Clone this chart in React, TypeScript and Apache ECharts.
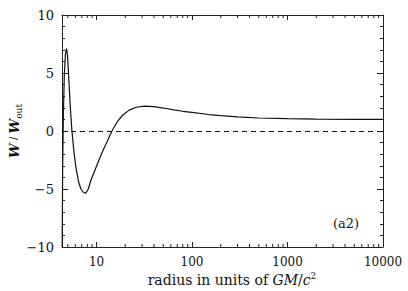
import React, { useEffect, useRef } from "react";
import * as echarts from "echarts";

// radius (units of GM/c^2) and W / W_out
const radius = [
  4.37, 4.42, 4.5, 4.6, 4.72, 4.85, 4.97, 5.1, 5.3, 5.53, 5.8, 6.1, 6.5, 6.87,
  7.3, 7.74, 8.2, 8.76, 9.6, 10.6, 11.8, 13.1, 14.5, 16.5, 19, 22, 26, 32, 40,
  50, 65, 80, 100, 150, 200, 300, 500, 1000, 2000, 5000, 10000,
];
const wRatio = [
  -10, -3, 1.5, 4.8, 6.6, 7.1, 6.5, 4.8, 2.2, 0, -1.8, -3.2, -4.4, -5.0, -5.3,
  -5.35, -5.0, -4.2, -3.4, -2.5, -1.6, -0.8, 0, 0.8, 1.4, 1.8, 2.05, 2.15, 2.1,
  1.98, 1.82, 1.7, 1.6, 1.42, 1.32, 1.22, 1.12, 1.06, 1.03, 1.01, 1.0,
];
const xMajorLabels = [10, 100, 1000, 10000];
const xMinorTicks = [
  5, 6, 7, 8, 9, 20, 30, 40, 50, 60, 70, 80, 90, 200, 300, 400, 500, 600, 700,
  800, 900, 2000, 3000, 4000, 5000, 6000, 7000, 8000, 9000,
];
const xMin = 4.35;
const xMax = 10000;
const yMin = -10;
const yMax = 10;
const yStep = 5;
const panelTag = "(a2)";

const FONT = "DejaVu Serif";
const AX = "#222";

export default function App() {
  const ref = useRef<HTMLDivElement>(null);
  useEffect(() => {
    if (!ref.current) return;
    const chart = echarts.init(ref.current, null, { renderer: "svg" });
    const xAxisBase = {
      type: "log" as const,
      logBase: 10,
      min: xMin,
      max: xMax,
      axisLine: { show: true, onZero: false, lineStyle: { color: AX, width: 1 } },
      axisTick: { show: true, inside: true, length: 5, lineStyle: { color: AX } },
      splitLine: { show: false },
      minorTick: { show: false },
    };
    const yAxisBase = {
      type: "value" as const,
      min: yMin,
      max: yMax,
      interval: yStep,
      axisLine: { show: true, onZero: false, lineStyle: { color: AX, width: 1 } },
      axisTick: { show: true, inside: true, length: 6, lineStyle: { color: AX } },
      minorTick: { show: true, splitNumber: 5, length: 3, lineStyle: { color: AX } },
      splitLine: { show: false },
    };
    chart.setOption({
      animation: false,
      backgroundColor: "#fff",
      grid: { left: 62, right: 25, top: 15, bottom: 44, containLabel: false },
      xAxis: [
        {
          ...xAxisBase,
          position: "bottom",
          axisLabel: {
            show: true,
            showMinLabel: false,
            color: "#111",
            fontFamily: FONT,
            fontSize: 12,
            margin: 9,
            formatter: (v: number) =>
              xMajorLabels.some((m) => Math.abs(m - v) / m < 1e-6) ? String(Math.round(v)) : "",
          },
        },
        {
          ...xAxisBase,
          position: "top",
          axisLabel: { show: false },
        },
      ],
      yAxis: [
        {
          ...yAxisBase,
          position: "left",
          axisLabel: {
            color: "#111",
            fontFamily: FONT,
            fontSize: 13,
            margin: 8,
            formatter: (v: number) => String(v).replace("-", "\u2212"),
          },
        },
        {
          ...yAxisBase,
          position: "right",
          axisLabel: { show: false },
        },
      ],
      series: [
        {
          type: "line",
          xAxisIndex: 0,
          yAxisIndex: 0,
          data: radius.map((r, i) => [r, wRatio[i]]),
          showSymbol: false,
          symbol: "none",
          lineStyle: { color: "#111", width: 1.2 },
          clip: true,
          markLine: {
            silent: true,
            symbol: "none",
            label: { show: false },
            lineStyle: { color: "#111", width: 1, type: [5, 4] },
            data: [{ yAxis: 0 }],
          },
          z: 3,
        },
        {
          type: "custom",
          xAxisIndex: 0,
          yAxisIndex: 0,
          silent: true,
          clip: false,
          data: xMinorTicks.map((v) => [v, 0]),
          renderItem: (params: any, api: any) => {
            const v = api.value(0);
            const b = api.coord([v, yMin]);
            const t = api.coord([v, yMax]);
            const st = { stroke: AX, lineWidth: 1 };
            return {
              type: "group",
              children: [
                { type: "line", shape: { x1: b[0], y1: b[1], x2: b[0], y2: b[1] - 3 }, style: st },
                { type: "line", shape: { x1: t[0], y1: t[1], x2: t[0], y2: t[1] + 3 }, style: st },
              ],
            };
          },
          z: 4,
        },
      ],
      graphic: [
        {
          type: "text",
          x: 14,
          y: 131,
          rotation: Math.PI / 2,
          style: {
            text: "{w|W} / {w|W}{s|out}",
            fill: "#111",
            align: "center",
            verticalAlign: "middle",
            rich: {
              w: { fontFamily: FONT, fontStyle: "italic", fontWeight: "bold", fontSize: 13, lineHeight: 18, verticalAlign: "middle", fill: "#111" },
              s: { fontFamily: FONT, fontSize: 9, lineHeight: 18, verticalAlign: "bottom", fill: "#111" },
            },
          },
        },
        {
          type: "text",
          x: 232,
          y: 280,
          style: {
            text: "{n|radius in units of }{i|GM}{n|/}{i|c}{p|2}",
            fill: "#111",
            align: "center",
            verticalAlign: "middle",
            rich: {
              n: { fontFamily: FONT, fontSize: 14, lineHeight: 18, verticalAlign: "middle", fill: "#111" },
              i: { fontFamily: FONT, fontStyle: "italic", fontSize: 14, lineHeight: 18, verticalAlign: "middle", fill: "#111" },
              p: { fontFamily: FONT, fontSize: 9, lineHeight: 18, verticalAlign: "top", fill: "#111" },
            },
          },
        },
        {
          type: "text",
          x: 346,
          y: 223,
          style: {
            text: panelTag,
            fill: "#111",
            fontFamily: FONT,
            fontSize: 13,
            align: "center",
            verticalAlign: "middle",
          },
        },
      ],
    });
    return () => chart.dispose();
  }, []);
  return <div ref={ref} style={{ width: 408, height: 291, position: "absolute", left: 0, top: 0 }} />;
}
